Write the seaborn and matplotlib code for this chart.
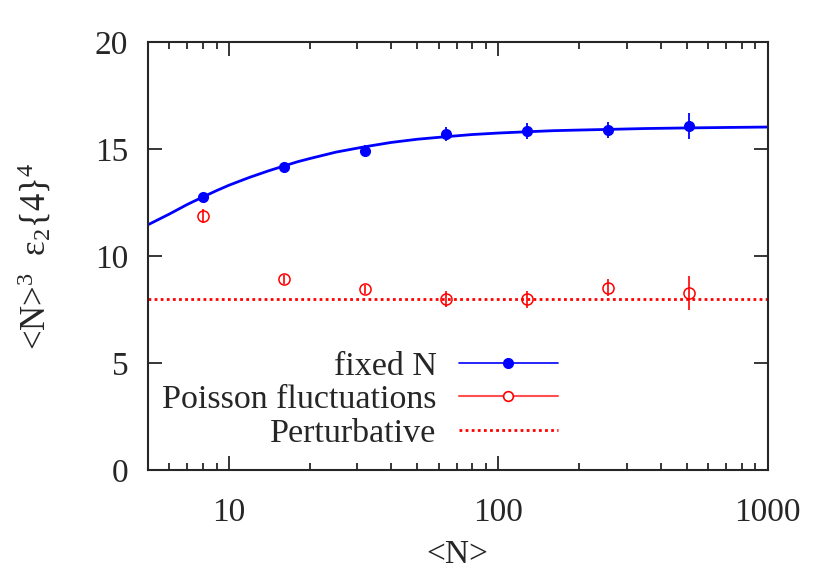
import numpy as np
import pandas as pd
import matplotlib
matplotlib.use("Agg")
import matplotlib.pyplot as plt
from matplotlib.lines import Line2D
import seaborn as sns

# data
n_points = [8, 16, 32, 64, 128, 256, 512]
fixed_vals = [12.77, 14.17, 14.9, 15.69, 15.84, 15.87, 16.07]
fixed_err = [0.15, 0.15, 0.3, 0.34, 0.38, 0.38, 0.6]
poisson_vals = [11.88, 8.91, 8.44, 7.99, 7.97, 8.52, 8.26]
poisson_err = [0.32, 0.2, 0.2, 0.38, 0.38, 0.41, 0.8]
perturbative = 8.0

# fitted curve for fixed N
curve_n = [5, 6, 7, 8, 9, 10, 11, 12, 14, 16, 18, 20, 25, 32, 40, 50, 64, 80,
           100, 128, 160, 200, 256, 350, 512, 700, 1000]
curve_vals = [11.45, 11.95, 12.4, 12.75, 13.05, 13.3, 13.5, 13.68, 13.97,
              14.2, 14.4, 14.55, 14.85, 15.1, 15.3, 15.45, 15.57, 15.67,
              15.74, 15.8, 15.85, 15.88, 15.91, 15.95, 15.98, 16.0, 16.02]

labels = ["fixed N", "Poisson fluctuations", "Perturbative"]

sns.set_style("ticks")
plt.rcParams["font.family"] = ["Liberation Serif", "DejaVu Serif"]
plt.rcParams["mathtext.fontset"] = "custom"
plt.rcParams["mathtext.rm"] = "Liberation Serif"
plt.rcParams["mathtext.it"] = "Liberation Serif:italic"
plt.rcParams["font.size"] = 24

BLUE = "#0000ff"
RED = "#ff0000"

fig = plt.figure(figsize=(8.3, 5.81), dpi=100)
ax = fig.add_axes([0.178, 0.191, 0.747, 0.737])

curve = pd.DataFrame({"N": curve_n, "val": curve_vals})
sns.lineplot(data=curve, x="N", y="val", ax=ax, color=BLUE, lw=2,
             legend=False)

ax.errorbar(n_points, fixed_vals, yerr=fixed_err, fmt="o", color=BLUE,
            ms=7, elinewidth=1.3, capsize=0, zorder=3)
ax.errorbar(n_points, poisson_vals, yerr=poisson_err, fmt="o", color=RED,
            mfc="none", ms=8, mew=1.1, elinewidth=1.2, capsize=0, zorder=3)
ax.axhline(perturbative, color=RED, ls=(0, (1, 1.2)), lw=2)

ax.set_xscale("log")
ax.set_xlim(5, 1000)
ax.set_ylim(0, 20)
ax.set_yticks([0, 5, 10, 15, 20])
ax.set_xticks([10, 100, 1000])
ax.set_xticklabels(["10", "100", "1000"])
ax.minorticks_on()
ax.yaxis.set_minor_locator(matplotlib.ticker.NullLocator())
ax.tick_params(which="both", direction="in", top=True, right=True,
               width=1.3, labelsize=24)
ax.tick_params(which="major", length=10)
ax.tick_params(which="minor", length=5)
ax.tick_params(axis="x", pad=20)
ax.tick_params(axis="y", pad=14)
for sp in ax.spines.values():
    sp.set_linewidth(1.5)

ax.set_xlabel("<N>", fontsize=24, labelpad=8)
ax.set_ylabel("<N>$^{3}$  ε$_{2}${4}$^{4}$", fontsize=25, labelpad=30)

handles = [
    Line2D([], [], color=BLUE, lw=1.2, marker="o", ms=7),
    Line2D([], [], color="#ff5050", lw=1.5, marker="o", ms=7,
           mfc="white", mec=RED, mew=1.2),
    Line2D([], [], color=RED, lw=2, ls=(0, (1, 1.2))),
]
ax.legend(handles, labels, loc="lower right", bbox_to_anchor=(0.661, 0.05),
          frameon=False, markerfirst=False, handlelength=2.9,
          labelspacing=0.08, handletextpad=0.66, fontsize=24.5,
          borderaxespad=0, borderpad=0)

fig.savefig("out.png", dpi=100)
